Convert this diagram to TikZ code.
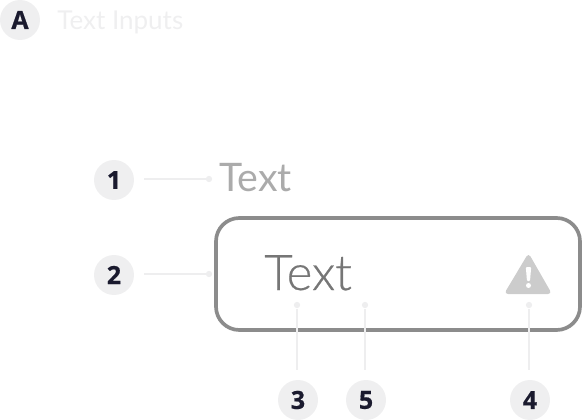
\documentclass[tikz,border=0pt]{standalone}
\usepackage{fontspec}
\setmainfont{Lato}
\newfontfamily\lightfont[RawFeature={embolden=0.5}]{Lato Light}
\newfontfamily\numfont[RawFeature={embolden=0.6}]{Open Sans}
\definecolor{badgegray}{HTML}{EFEFF0}
\definecolor{leadgray}{HTML}{EEEEEF}
\definecolor{inkdark}{HTML}{1A1A2E}
\definecolor{boxgray}{HTML}{8C8C8C}
\definecolor{labelgray}{HTML}{ABABAB}
\definecolor{valuegray}{HTML}{767676}
\definecolor{icongray}{HTML}{CCCCCC}
\tikzset{
  badge/.style={circle,fill=badgegray,minimum size=40*0.6pt,inner sep=0pt,text=inkdark,font=\numfont\bfseries\fontsize{15}{15}\selectfont},
  leader/.style={draw=leadgray,line width=1.2pt},
  enddot/.style={circle,fill=leadgray,minimum size=3.8pt,inner sep=0pt},
  bigtext/.style={inner sep=0pt,anchor=base west,font=\fontsize{23.6}{23.6}\selectfont}
}
\begin{document}
\begin{tikzpicture}
    [x=0.6pt,y=-0.6pt]
    \useasboundingbox (0,0) rectangle (582,420);
    %title
    \node[badge] (titlebadge) at (20,20) {A};
    \node[inner sep=0pt,anchor=base west,text=badgegray,font=\fontsize{15.6}{15.6}\selectfont] (title) at (57,30) {Text Inputs};
    %input box
    \node[draw=boxgray,line width=2.2pt,rounded corners=14pt,minimum width=364*0.6pt,minimum height=112*0.6pt,inner sep=0pt] (inputbox) at (398,274) {};
    \node[bigtext,text=labelgray] (labeltext) at (219,192) {Text};
    \node[bigtext,text=valuegray,font=\lightfont\fontsize{29.5}{29.5}\selectfont] (valuetext) at (264,290) {Text};
    %warning icon
    \fill[icongray,rounded corners=2.4pt] (528.5,253) -- (552,294) -- (504,294) -- cycle;
    \fill[white,rounded corners=0.6pt] (525.8,267) -- (531.2,267) -- (530,281) -- (527,281) -- cycle;
    \node[circle,fill=white,minimum size=3pt,inner sep=0pt] (warndot) at (528.5,285.5) {};
    %badges
    \node[badge] (one) at (114,180) {1};
    \node[badge] (two) at (114,275) {2};
    \node[badge] (three) at (298,400) {3};
    \node[badge] (five) at (366,400) {5};
    \node[badge] (four) at (530,400) {4};
    %ends of the leaders
    \node[enddot] (oneend) at (209,179) {};
    \node[enddot] (twoend) at (209,274) {};
    \node[enddot] (threeend) at (297,305) {};
    \node[enddot] (fiveend) at (365,305) {};
    \node[enddot] (fourend) at (529,305) {};
    \coordinate (onestart) at (144,179);
    \coordinate (twostart) at (144,274);
    \coordinate (threestart) at (297,370);
    \coordinate (fivestart) at (365,370);
    \coordinate (fourstart) at (529,370);
    %leaders
    \draw[leader] (onestart)--(oneend);
    \draw[leader] (twostart)--(twoend);
    \draw[leader] (threestart)--(threeend);
    \draw[leader] (fivestart)--(fiveend);
    \draw[leader] (fourstart)--(fourend);
\end{tikzpicture}
\end{document}
